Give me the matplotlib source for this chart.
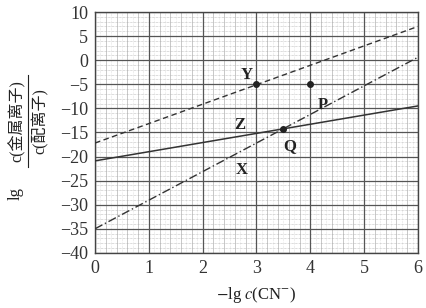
import numpy as np
import matplotlib
matplotlib.use("Agg")
import matplotlib.pyplot as plt
from matplotlib.lines import Line2D

plt.rcParams['font.family'] = ['Liberation Serif', 'Noto Sans CJK SC']
plt.rcParams['mathtext.fontset'] = 'stix'

# 直线端点 (x = -lg c(CN-), y = lg c(金属离子)/c(配离子))
line_x = [0, 6]
line_X = [-35.0, 0.6]
line_Y = [-17.2, 7.0]
line_Z = [-20.9, -9.5]

# 标记点
pt_names = ["Y", "P", "Q"]
pt_x = [3.0, 4.0, 3.5]
pt_y = [-5.0, -5.0, -14.3]

# 文字标签
lab_names = ["Y", "P", "Z", "Q", "X"]
lab_x = [2.82, 4.24, 2.69, 3.62, 2.73]
lab_y = [-3.1, -9.3, -13.4, -17.8, -22.8]

xticks = [0, 1, 2, 3, 4, 5, 6]
yticks = [10, 5, 0, -5, -10, -15, -20, -25, -30, -35, -40]

fig = plt.figure(figsize=(4.26, 3.08), dpi=100)
ax = fig.add_axes([0.223, 0.179, 0.758, 0.782])

# 网格
for v in np.arange(0, 6.01, 0.1):
    if abs(v - round(v)) < 1e-6:
        continue
    if abs(v * 5 - round(v * 5)) < 1e-6:
        ax.axvline(v, color='#aaaaaa', lw=0.45, zorder=1)
    else:
        ax.axvline(v, color='#cccccc', lw=0.4, ls=(0, (1, 1.5)), zorder=1)
for v in range(-40, 11):
    if v % 5 != 0:
        ax.axhline(v, color='#aaaaaa', lw=0.45, ls=(0, (1, 1.2)), zorder=1)
for v in xticks:
    ax.axvline(v, color='#555555', lw=0.9, zorder=2)
for v in yticks:
    ax.axhline(v, color='#555555', lw=0.9, zorder=2)

ax.plot(line_x, line_Y, color='#333333', lw=1.0, ls=(0, (4, 2.5)), zorder=3)
ax.plot(line_x, line_X, color='#333333', lw=1.0, ls=(0, (6, 2, 1, 2)), zorder=3)
ax.plot(line_x, line_Z, color='#333333', lw=1.1, ls='-', zorder=3)
ax.scatter(pt_x, pt_y, s=16, color='#222222', zorder=4)

for n, x, y in zip(lab_names, lab_x, lab_y):
    ax.text(x, y, n, fontsize=12, fontweight='bold', color='#222222',
            ha='center', va='center', zorder=5)

ax.set_xlim(0, 6)
ax.set_ylim(-40, 10)
ax.set_xticks(xticks)
ax.set_yticks(yticks)
ax.set_yticklabels([str(v).replace('-', '\u2212') for v in yticks])
ax.tick_params(length=0, labelsize=13, pad=5, colors='#333333')
for s in ax.spines.values():
    s.set_color('#444444')
    s.set_linewidth(1.0)

ax.set_xlabel(r'$-$lg $c$(CN$^{-}$)', fontsize=12, color='#222222', labelpad=6)

# y轴标签: lg c(金属离子)/c(配离子)
fig.text(16 / 426, 1 - 193 / 308, 'lg', rotation=90, fontsize=12,
         ha='center', va='center', color='#222222')
fig.text(17 / 426, 1 - 121 / 308, 'c(金属离子)', rotation=90, fontsize=11.5,
         ha='center', va='center', color='#222222')
fig.add_artist(Line2D([28 / 426, 28 / 426], [1 - 167 / 308, 1 - 75 / 308],
                      transform=fig.transFigure, color='#222222', lw=0.8))
fig.text(40 / 426, 1 - 121 / 308, 'c(配离子)', rotation=90, fontsize=11.5,
         ha='center', va='center', color='#222222')

fig.savefig('out.png', dpi=100)
